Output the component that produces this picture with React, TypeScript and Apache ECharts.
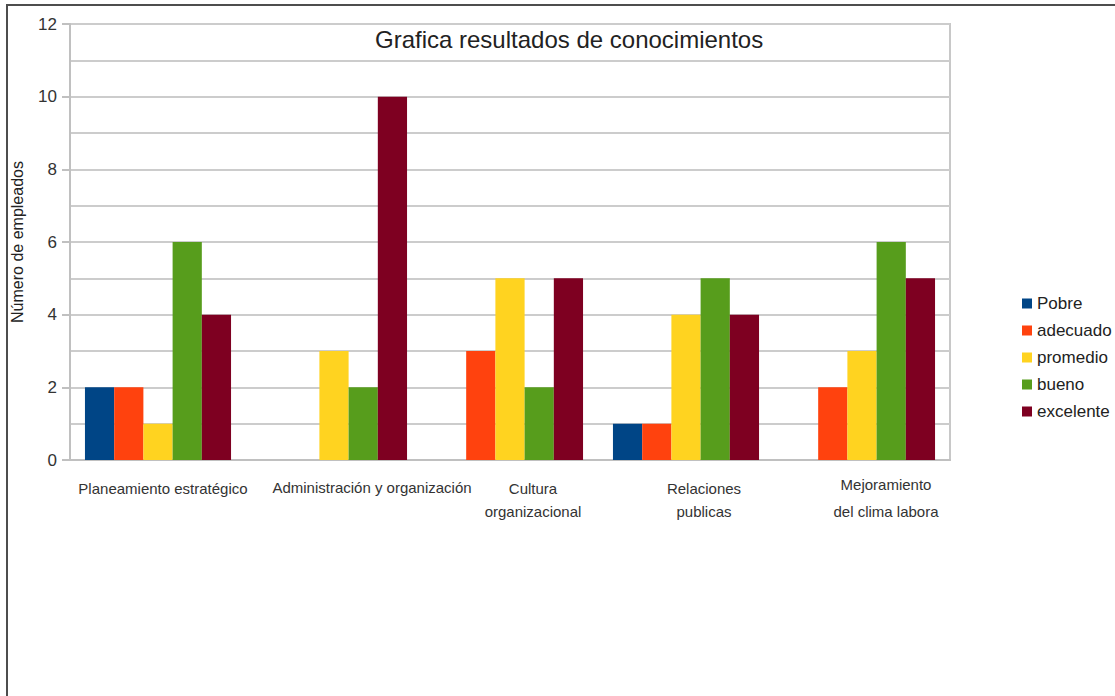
import React, { useEffect, useRef } from "react";
import * as echarts from "echarts";

const categories = [
  "Planeamiento estratégico",
  "Administración y organización",
  "Cultura\norganizacional",
  "Relaciones\npublicas",
  "Mejoramiento\ndel clima labora",
];
const seriesNames = ["Pobre", "adecuado", "promedio", "bueno", "excelente"];
const pobre = [2, 0, 0, 1, 0];
const adecuado = [2, 0, 3, 1, 2];
const promedio = [1, 3, 5, 4, 3];
const bueno = [6, 2, 2, 5, 6];
const excelente = [4, 10, 5, 4, 5];
const colors = ["#004586", "#ff420e", "#ffd320", "#579d1c", "#7e0021"];

const FONT = "Liberation Sans, Arial, sans-serif";
const labelShiftX = [5, 38, 23, 18, 24];
const labelPadTop = [8, 5, 8, 7, 0];

export default function App() {
  const ref = useRef<HTMLDivElement>(null);
  useEffect(() => {
    if (!ref.current) return;
    const chart = echarts.init(ref.current, null, { renderer: "svg" });
    const rich: Record<string, any> = {};
    categories.forEach((_, i) => {
      const base = { fontSize: 15, fontFamily: FONT, color: "#333", lineHeight: 27 };
      rich["f" + i] = { ...base, padding: [labelPadTop[i], 0, 0, 2 * labelShiftX[i]] };
      rich["r" + i] = { ...base, padding: [0, 0, 0, 2 * labelShiftX[i]] };
    });
    const data = [pobre, adecuado, promedio, bueno, excelente];
    chart.setOption({
      animation: false,
      backgroundColor: "#ffffff",
      color: colors,
      title: {
        text: "Grafica resultados de conocimientos",
        left: 375,
        top: 27,
        padding: 0,
        textStyle: { fontSize: 24, fontWeight: "normal", color: "#222", fontFamily: FONT },
      },
      legend: {
        orient: "vertical",
        left: 1017,
        top: 290,
        icon: "rect",
        itemWidth: 10,
        itemHeight: 10,
        itemGap: 10,
        itemTextGap: 6,
        itemStyle: { borderWidth: 0 },
        textStyle: { fontSize: 17, color: "#222", fontFamily: FONT },
        data: seriesNames,
      },
      graphic: [
        {
          type: "rect",
          shape: { x: 7, y: 5, width: 1300, height: 900 },
          style: { fill: "none", stroke: "#4d4d4d", lineWidth: 2 },
          silent: true,
        },
      ],
      grid: {
        left: 70,
        top: 24,
        width: 880,
        height: 436,
        show: true,
        borderColor: "#c8c8c8",
        borderWidth: 2,
        containLabel: false,
        outerBoundsMode: "none",
      },
      xAxis: {
        type: "category",
        data: categories,
        axisTick: { show: false },
        axisLine: { lineStyle: { color: "#c0c0c0", width: 2 } },
        axisLabel: {
          interval: 0,
          margin: 11,
          formatter: (value: string, index: number) =>
            value
              .split("\n")
              .map((l, j) => `{${j === 0 ? "f" : "r"}${index}|${l}}`)
              .join("\n"),
          rich,
        },
      },
      yAxis: {
        type: "value",
        min: 0,
        max: 12,
        interval: 2,
        name: "Número de empleados",
        nameLocation: "middle",
        nameGap: 45,
        nameTextStyle: { fontSize: 16, color: "#222", fontFamily: FONT },
        axisLine: { show: true, lineStyle: { color: "#c0c0c0", width: 2 } },
        axisTick: { show: true, length: 8, lineStyle: { color: "#c0c0c0", width: 2 } },
        axisLabel: { fontSize: 17, color: "#333", margin: 13, fontFamily: FONT },
        splitLine: { lineStyle: { color: "#cccccc", width: 2 } },
        minorTick: { show: false, splitNumber: 2 },
        minorSplitLine: { show: true, lineStyle: { color: "#cccccc", width: 2 } },
      },
      series: seriesNames.map((name, i) => ({
        name,
        type: "bar",
        data: data[i],
        barGap: "0%",
        barCategoryGap: "17%",
        itemStyle: { color: colors[i] },
      })),
    });
    return () => chart.dispose();
  }, []);
  return (
    <div
      ref={ref}
      style={{ position: "fixed", left: 0, top: 0, width: 1115, height: 696 }}
    />
  );
}
